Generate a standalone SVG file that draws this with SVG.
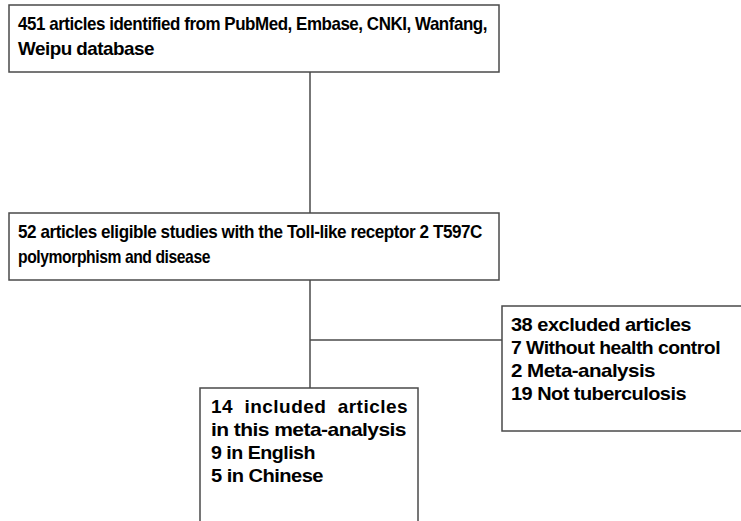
<svg xmlns="http://www.w3.org/2000/svg" width="741" height="521" viewBox="0 0 741 521">
<style>
.box{fill:#fff;stroke:#4a4a4a;stroke-width:1.5}
.ln{stroke:#4a4a4a;stroke-width:1.5;fill:none}
text{font-family:"Liberation Sans",Arial,sans-serif;font-weight:bold;font-size:19px;letter-spacing:-0.5px;fill:#000}
</style>
<rect width="741" height="521" fill="#fff"/>
<g id="connectors">
<line class="ln" x1="310" y1="72" x2="310" y2="213"/>
<line class="ln" x1="310" y1="280" x2="310" y2="388"/>
<line class="ln" x1="310" y1="340" x2="502" y2="340"/>
</g>
<g id="n1">
<rect class="box" x="9" y="5" width="490" height="67"/>
<text x="18" y="30" textLength="469" lengthAdjust="spacingAndGlyphs">451 articles identified from PubMed, Embase, CNKI, Wanfang,</text>
<text x="18" y="55" textLength="136" lengthAdjust="spacingAndGlyphs">Weipu database</text>
</g>
<g id="n2">
<rect class="box" x="9" y="213" width="490" height="67"/>
<text x="18" y="238" textLength="464" lengthAdjust="spacingAndGlyphs">52 articles eligible studies with the Toll-like receptor 2 T597C</text>
<text x="18" y="263" textLength="192" lengthAdjust="spacingAndGlyphs">polymorphism and disease</text>
</g>
<g id="n3">
<rect class="box" x="502" y="306" width="245" height="125"/>
<text x="511" y="331" textLength="180" lengthAdjust="spacingAndGlyphs">38 excluded articles</text>
<text x="511" y="354" textLength="209" lengthAdjust="spacingAndGlyphs">7 Without health control</text>
<text x="511" y="377" textLength="144" lengthAdjust="spacingAndGlyphs">2 Meta-analysis</text>
<text x="511" y="400" textLength="175" lengthAdjust="spacingAndGlyphs">19 Not tuberculosis</text>
</g>
<g id="n4">
<rect class="box" x="200" y="388" width="218" height="140"/>
<text x="211" y="413" textLength="196" lengthAdjust="spacing" xml:space="preserve">14  included  articles</text>
<text x="211" y="436" textLength="195" lengthAdjust="spacingAndGlyphs">in this meta-analysis</text>
<text x="211" y="459" textLength="104" lengthAdjust="spacingAndGlyphs">9 in English</text>
<text x="211" y="482" textLength="112" lengthAdjust="spacingAndGlyphs">5 in Chinese</text>
</g>
</svg>
